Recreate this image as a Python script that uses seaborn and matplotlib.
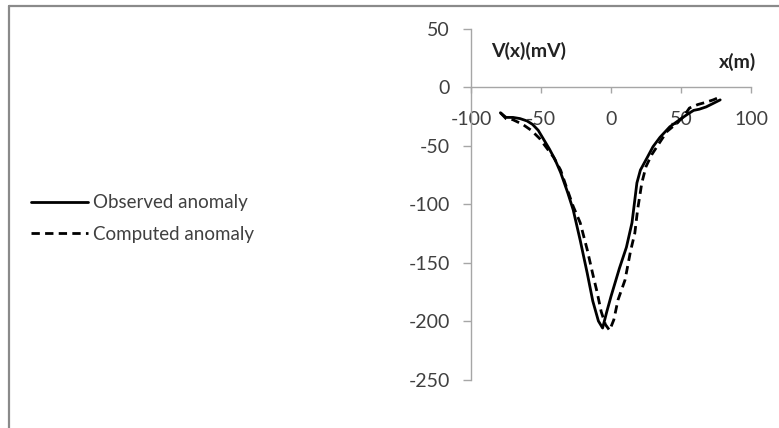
import numpy as np
import pandas as pd
import matplotlib
matplotlib.use("Agg")
import matplotlib.pyplot as plt
from matplotlib.lines import Line2D
import seaborn as sns

# observed anomaly
obs_x = [-79, -75, -70, -65, -60, -56, -52, -48, -44, -40, -36, -31, -27, -22, -17, -13, -9,
         -6, -3, 0, 2, 6, 11, 15, 18.5, 21, 26, 30, 35, 42, 49, 55, 59, 63, 68, 73, 78]
obs_y = [-22, -26, -26, -27, -29, -32, -37, -45, -53, -62, -73, -90, -105, -131, -159, -183,
         -200, -206, -192, -179, -171, -155, -137, -116, -82, -71, -60, -51, -43, -34, -28,
         -23, -20, -19, -17, -14, -11]

# computed anomaly
calc_x = [-79, -75, -70, -63, -57, -51, -46, -41, -36, -32, -27, -22, -17, -13, -10, -7,
          -4, -1, 2, 5, 10, 14, 17, 19, 22, 25, 29, 35, 40, 47, 52, 56, 62, 68, 73, 78]
calc_y = [-22, -27, -28, -32, -37, -44, -52, -60, -71, -85, -102, -116, -139, -160, -175, -192,
          -203, -208, -199, -182, -165, -140, -125, -105, -82, -68, -58, -47, -38, -31, -25, -18,
          -15, -13, -11, -8.5]

x_ticks = [-100, -50, 0, 50, 100]
y_ticks = [50, 0, -50, -100, -150, -200, -250]

sns.set_style("white")
plt.rcParams["font.family"] = ["Lato", "DejaVu Sans"]
plt.rcParams["axes.unicode_minus"] = False

W, H = 779, 428
fig = plt.figure(figsize=(W / 100, H / 100), dpi=100)
ax = fig.add_axes([471 / W, 1 - 379.5 / H, 280 / W, 351 / H])

obs = pd.DataFrame({"x": obs_x, "y": obs_y})
calc = pd.DataFrame({"x": calc_x, "y": calc_y})
sns.lineplot(data=obs, x="x", y="y", ax=ax, color="black", linewidth=2.0,
             sort=False, label="Observed anomaly")
sns.lineplot(data=calc, x="x", y="y", ax=ax, color="black", linewidth=2.0,
             sort=False, linestyle=(0, (3.0, 1.9)), label="Computed anomaly")

ax.set_xlim(-100, 100)
ax.set_ylim(-250, 50)
ax.set_xticks(x_ticks)
ax.set_yticks(y_ticks)

axis_grey = "#a6a6a6"
for side in ["top", "right"]:
    ax.spines[side].set_visible(False)
ax.spines["bottom"].set_position(("data", 0))
ax.spines["bottom"].set_color(axis_grey)
ax.spines["left"].set_color(axis_grey)
ax.spines["bottom"].set_linewidth(1.0)
ax.spines["left"].set_linewidth(1.0)

ax.tick_params(axis="x", direction="out", length=4, width=1, color=axis_grey,
               pad=13, labelsize=14, labelcolor="#404040", bottom=True)
ax.tick_params(axis="y", direction="out", length=6, width=1, color=axis_grey,
               pad=9, labelsize=14, labelcolor="#404040", left=True)

ax.set_xlabel("x(m)", fontsize=14, fontweight="bold", color="#222222", va="center")
ax.set_ylabel("V(x)(mV)", fontsize=14, fontweight="bold", color="#222222",
              rotation=0, ha="center", va="center")
ax.xaxis.set_label_coords(0.952, 0.905)
ax.yaxis.set_label_coords(0.205, 0.936)

ax.legend(loc="upper left", bbox_to_anchor=(22 / W, 1 - 185 / H),
          bbox_transform=fig.transFigure, frameon=False, fontsize=13.5,
          handlelength=3.0, handletextpad=0.3, labelspacing=0.78, borderpad=0,
          labelcolor="#404040")

# chart border (only top and left edges visible in the picture)
frame_c = "#8a8a8a"
fig.add_artist(Line2D([8.5 / W, 8.5 / W], [0, 1 - 6 / H], color=frame_c,
                      linewidth=1.6, transform=fig.transFigure))
fig.add_artist(Line2D([8.5 / W, 1], [1 - 6 / H, 1 - 6 / H], color=frame_c,
                      linewidth=1.6, transform=fig.transFigure))

fig.savefig("out.png", dpi=100)
